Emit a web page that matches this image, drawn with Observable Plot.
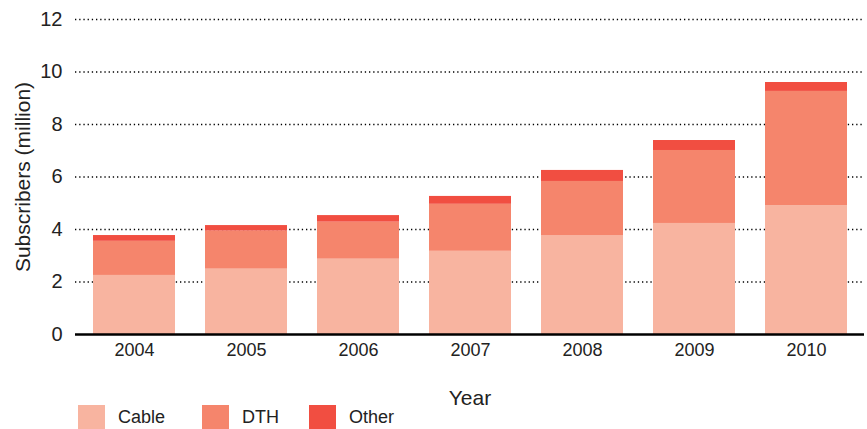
<!DOCTYPE html>
<html>
<head>
<meta charset="utf-8">
<script src="https://cdn.jsdelivr.net/npm/d3@7"></script>
<script src="https://cdn.jsdelivr.net/npm/@observablehq/plot@0.6"></script>
<style>
  html, body { margin: 0; padding: 0; background: #fff; }
  #wrap { position: relative; width: 867px; height: 429px; font-family: "Liberation Sans", Arial, Helvetica, sans-serif; }
  #legend { position: absolute; left: 0; top: 405px; height: 24px; width: 867px; }
  .item { position: absolute; top: 0; height: 24px; display: flex; align-items: center; font-size: 18px; color: #222; }
  .sw { width: 27px; height: 24px; margin-right: 13px; }
</style>
</head>
<body>
<div id="wrap"><div id="chart"></div><div id="legend"></div></div>
<script>
const years = ["2004", "2005", "2006", "2007", "2008", "2009", "2010"];
const series = ["Cable", "DTH", "Other"];
const cable = [2.25, 2.49, 2.87, 3.17, 3.77, 4.23, 4.91];
const dth   = [1.30, 1.45, 1.41, 1.79, 2.06, 2.78, 4.35];
const other = [0.22, 0.21, 0.25, 0.30, 0.42, 0.38, 0.34];
const colors = ["#f8b4a0", "#f5856c", "#f14e41"];
const yTicks = [0, 2, 4, 6, 8, 10, 12];
const gridTicks = [2, 4, 6, 8, 10, 12];

const values = [cable, dth, other];
const rows = [];
series.forEach((s, i) => years.forEach((y, j) => rows.push({year: y, type: s, value: values[i][j]})));

const chart = Plot.plot({
  width: 867,
  height: 429,
  marginTop: 19,
  marginBottom: 95,
  marginLeft: 75,
  marginRight: 3,
  style: {fontFamily: "Liberation Sans, Arial, Helvetica, sans-serif", fontSize: "21px", color: "#222", background: "#fff"},
  x: {type: "band", domain: years, paddingInner: 0.27, paddingOuter: 0.143},
  y: {domain: [0, 12]},
  color: {domain: series, range: colors},
  marks: [
    Plot.gridY(gridTicks, {stroke: "#000", strokeOpacity: 1, strokeWidth: 1.3, strokeDasharray: "1.3,2.9"}),
    Plot.barY(rows, {x: "year", y: "value", fill: "type"}),
    Plot.ruleY([0], {stroke: "#000", strokeWidth: 2.5}),
    Plot.axisY(yTicks, {tickSize: 0, tickPadding: 13, fontSize: 20, label: null}),
    Plot.axisY({ticks: [], tickSize: 0, fontSize: 21, label: "Subscribers (million)", labelAnchor: "center", labelArrow: false, labelOffset: 60}),
    Plot.axisX({tickSize: 0, tickPadding: 9, fontSize: 18, label: null}),
    Plot.axisX({ticks: [], tickSize: 0, fontSize: 21, label: "Year", labelAnchor: "center", labelArrow: false, labelOffset: 70})
  ]
});
document.getElementById("chart").appendChild(chart);
chart.style.position = "absolute";
chart.style.left = "0";
chart.style.top = "0";

const legendLeft = [78, 202, 309];
const legend = document.getElementById("legend");
series.forEach((s, i) => {
  const it = document.createElement("div");
  it.className = "item";
  it.style.left = legendLeft[i] + "px";
  const sw = document.createElement("div");
  sw.className = "sw";
  sw.style.background = colors[i];
  const t = document.createElement("span");
  t.textContent = s;
  it.appendChild(sw);
  it.appendChild(t);
  legend.appendChild(it);
});
</script>
</body>
</html>
